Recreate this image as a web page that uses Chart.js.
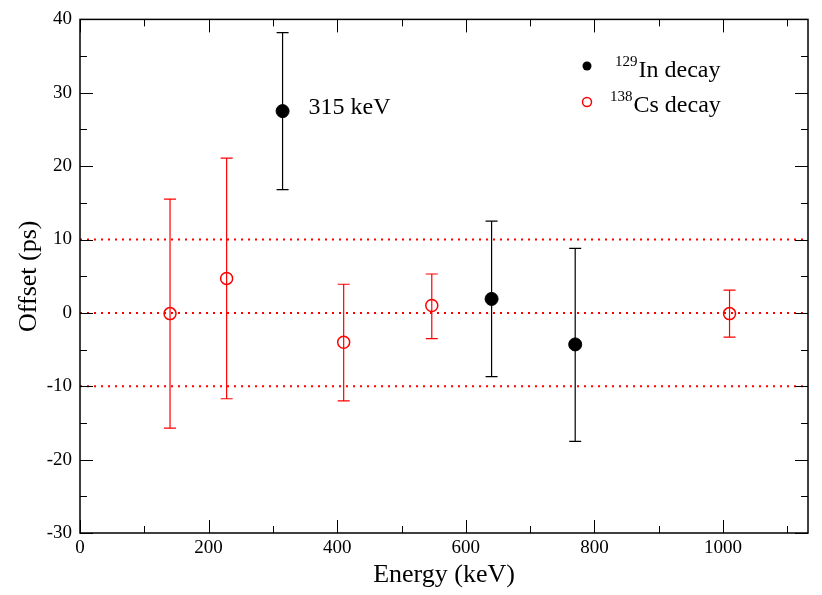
<!DOCTYPE html>
<html><head><meta charset="utf-8">
<script src="https://cdn.jsdelivr.net/npm/chart.js@4/dist/chart.umd.min.js"></script>
<style>html,body{margin:0;background:#fff}#wrap{width:822px;height:595px}</style>
</head><body><div id="wrap"><canvas id="c"></canvas></div>
<script>
// 129In decay (black)
const inEnergy = [315, 640, 770];
const inOffset = [27.5, 1.9, -4.3];
const inLow = [16.8, -8.7, -17.5];
const inHigh = [38.2, 12.5, 8.8];
// 138Cs decay (red)
const csEnergy = [140, 228, 410, 547, 1010];
const csOffset = [-0.1, 4.7, -4.0, 1.0, -0.1];
const csLow = [-15.7, -11.7, -12.0, -3.5, -3.3];
const csHigh = [15.5, 21.1, 3.9, 5.3, 3.1];
const refLines = [10, 0, -10];
const xTicks = [0, 200, 400, 600, 800, 1000];
const X_MAX = 1132;

const FONT = "'Liberation Serif', 'DejaVu Serif', serif";

const datasets = refLines.map((v) => ({
  type: "line", data: [{ x: 0, y: v }, { x: X_MAX, y: v }],
  borderColor: "#ff0000", borderWidth: 2, borderDash: [2, 5], pointRadius: 0, order: 5,
}));
datasets.push({
  label: "In", data: inEnergy.map((x, i) => ({ x, y: inOffset[i], lo: inLow[i], hi: inHigh[i] })),
  backgroundColor: "#000", borderColor: "#000", pointRadius: 6.5, errColor: "#000",
});
datasets.push({
  label: "Cs", data: csEnergy.map((x, i) => ({ x, y: csOffset[i], lo: csLow[i], hi: csHigh[i] })),
  backgroundColor: "rgba(0,0,0,0)", borderColor: "#ff0000", pointRadius: 6, pointBorderWidth: 1.5, errColor: "#ff0000",
});

const extras = {
  id: "extras",
  beforeDatasetsDraw(chart) {
    const { ctx, scales: { x, y } } = chart;
    ctx.save();
    chart.data.datasets.forEach((ds) => {
      if (!ds.errColor) return;
      ctx.strokeStyle = ds.errColor; ctx.lineWidth = 1.2;
      ds.data.forEach((p) => {
        const px = x.getPixelForValue(p.x);
        const y1 = y.getPixelForValue(p.lo), y2 = y.getPixelForValue(p.hi);
        ctx.beginPath();
        ctx.moveTo(px, y1); ctx.lineTo(px, y2);
        ctx.moveTo(px - 6, y1); ctx.lineTo(px + 6, y1);
        ctx.moveTo(px - 6, y2); ctx.lineTo(px + 6, y2);
        ctx.stroke();
      });
    });
    ctx.restore();
  },
  afterDraw(chart) {
    const { ctx, chartArea: a, scales: { x, y } } = chart;
    ctx.save();
    ctx.strokeStyle = "#000"; ctx.lineWidth = 1;
    ctx.beginPath();
    for (let v = 0; v <= X_MAX; v += 100) {
      const px = Math.round(x.getPixelForValue(v)) + 0.5;
      const len = v % 200 === 0 ? 13 : 7;
      ctx.moveTo(px, a.bottom); ctx.lineTo(px, a.bottom - len);
      ctx.moveTo(px, a.top); ctx.lineTo(px, a.top + len);
    }
    for (let v = -30; v <= 40; v += 5) {
      const py = Math.round(y.getPixelForValue(v)) + 0.5;
      const len = v % 10 === 0 ? 13 : 7;
      ctx.moveTo(a.left, py); ctx.lineTo(a.left + len, py);
      ctx.moveTo(a.right, py); ctx.lineTo(a.right - len, py);
    }
    ctx.stroke();
    ctx.lineWidth = 1.5;
    ctx.strokeRect(a.left, a.top, a.right - a.left, a.bottom - a.top);

    // annotation
    ctx.fillStyle = "#000";
    ctx.font = "24px " + FONT;
    ctx.textBaseline = "alphabetic";
    ctx.fillText("315 keV", x.getPixelForValue(315) + 26, y.getPixelForValue(27.5) + 3);

    // legend
    const lx = 587;
    ctx.beginPath(); ctx.arc(lx, 66, 4.5, 0, Math.PI * 2); ctx.fill();
    ctx.strokeStyle = "#ff0000"; ctx.lineWidth = 1.5;
    ctx.beginPath(); ctx.arc(lx, 102, 4.5, 0, Math.PI * 2); ctx.stroke();
    const entry = (sx, sup, txt, yy) => {
      ctx.fillStyle = "#000";
      ctx.font = "15px " + FONT;
      ctx.fillText(sup, sx, yy - 11);
      const w = ctx.measureText(sup).width;
      ctx.font = "24px " + FONT;
      ctx.fillText(txt, sx + w + 1, yy);
    };
    entry(615, "129", "In decay", 77);
    entry(610, "138", "Cs decay", 112);
    ctx.restore();
  },
};

new Chart(document.getElementById("c"), {
  type: "scatter",
  data: { datasets },
  options: {
    responsive: true, maintainAspectRatio: false, animation: false,
    layout: { padding: { top: 14, right: 14, left: 14, bottom: 0 } },
    plugins: { legend: { display: false }, tooltip: { enabled: false } },
    scales: {
      x: {
        type: "linear", min: 0, max: X_MAX,
        afterBuildTicks: (s) => { s.ticks = xTicks.map((v) => ({ value: v })); },
        grid: { display: false, drawTicks: false },
        border: { display: false },
        ticks: { color: "#000", font: { family: FONT, size: 19 }, padding: 4, maxRotation: 0, callback: (v) => String(v) },
        title: { display: true, text: "Energy (keV)", color: "#000", font: { family: FONT, size: 26 }, padding: { top: 0, bottom: 4 } },
        afterFit: (s) => { s.height = 62; },
      },
      y: {
        min: -30, max: 40,
        ticks: { stepSize: 10, color: "#000", font: { family: FONT, size: 19 }, padding: 8 },
        grid: { display: false, drawTicks: false },
        border: { display: false },
        title: { display: true, text: "Offset (ps)", color: "#000", font: { family: FONT, size: 26 }, padding: { top: 0, bottom: 6 } },
        afterFit: (s) => { s.width = 66; },
      },
    },
  },
  plugins: [extras],
});
</script></body></html>
